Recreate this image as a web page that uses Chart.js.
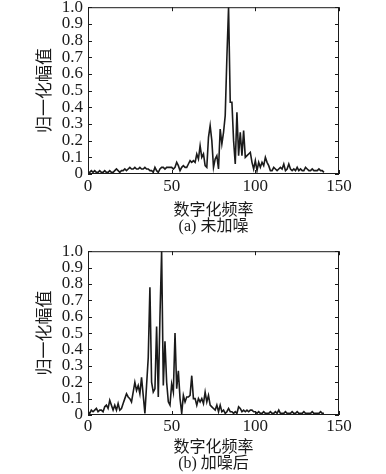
<!DOCTYPE html>
<html>
<head>
<meta charset="utf-8">
<script src="https://cdn.jsdelivr.net/npm/chart.js@4.4.1/dist/chart.umd.min.js"></script>
<style>
  html, body { margin: 0; padding: 0; background: #fff; }
  #wrap { position: relative; width: 386px; height: 474px; overflow: hidden; }
  .box { position: absolute; left: 0; width: 386px; }
</style>
</head>
<body>
<div id="wrap">
  <div class="box" style="top:-8px;height:244px;"><canvas id="chartA"></canvas></div>
  <div class="box" style="top:236px;height:238px;"><canvas id="chartB"></canvas></div>
</div>
<script>
// tick labels
const xTicks = [0, 50, 100, 150];
const yTicks = [0, 0.1, 0.2, 0.3, 0.4, 0.5, 0.6, 0.7, 0.8, 0.9, 1.0];

// (a) 未加噪 - normalized amplitude per digital frequency bin (0..141)
const seriesA = [
  0.01, 0.01, 0.02, 0.01, 0.02, 0.01, 0.01, 0.02, 0.01, 0.01,
  0.02, 0.01, 0.01, 0.02, 0.01, 0.01, 0.02, 0.03, 0.02, 0.01,
  0.02, 0.02, 0.03, 0.02, 0.03, 0.04, 0.03, 0.03, 0.04, 0.03,
  0.03, 0.04, 0.03, 0.03, 0.04, 0.03, 0.03, 0.02, 0.02, 0.01,
  0.04, 0.02, 0.01, 0.03, 0.04, 0.04, 0.03, 0.04, 0.04, 0.04,
  0.04, 0.03, 0.04, 0.07, 0.05, 0.02, 0.04, 0.05, 0.04, 0.04,
  0.06, 0.08, 0.07, 0.08, 0.07, 0.12, 0.09, 0.17, 0.10, 0.12,
  0.05, 0.04, 0.22, 0.29, 0.20, 0.04, 0.09, 0.11, 0.03, 0.27,
  0.18, 0.25, 0.35, 0.70, 1.00, 0.43, 0.43, 0.20, 0.06, 0.37,
  0.11, 0.25, 0.11, 0.26, 0.10, 0.11, 0.12, 0.13, 0.07, 0.03,
  0.08, 0.02, 0.07, 0.04, 0.07, 0.05, 0.10, 0.07, 0.05, 0.02,
  0.02, 0.04, 0.03, 0.02, 0.03, 0.04, 0.03, 0.06, 0.02, 0.03,
  0.06, 0.03, 0.02, 0.03, 0.02, 0.04, 0.02, 0.03, 0.02, 0.02,
  0.04, 0.03, 0.02, 0.02, 0.03, 0.02, 0.02, 0.02, 0.03, 0.02,
  0.02, 0.01
];

// (b) 加噪后
const seriesB = [
  0.02, 0.01, 0.03, 0.02, 0.03, 0.04, 0.02, 0.03, 0.03, 0.02,
  0.05, 0.06, 0.04, 0.09, 0.06, 0.03, 0.06, 0.03, 0.07, 0.03,
  0.04, 0.07, 0.10, 0.13, 0.11, 0.10, 0.08, 0.14, 0.20, 0.15,
  0.18, 0.13, 0.23, 0.12, 0.01, 0.18, 0.35, 0.78, 0.20, 0.14,
  0.16, 0.54, 0.11, 0.60, 1.00, 0.18, 0.45, 0.20, 0.08, 0.06,
  0.19, 0.14, 0.50, 0.16, 0.27, 0.10, 0.01, 0.12, 0.08, 0.11,
  0.11, 0.12, 0.24, 0.10, 0.10, 0.06, 0.10, 0.08, 0.10, 0.07,
  0.14, 0.08, 0.12, 0.06, 0.05, 0.04, 0.03, 0.06, 0.02, 0.06,
  0.02, 0.03, 0.01, 0.02, 0.04, 0.02, 0.02, 0.01, 0.02, 0.01,
  0.05, 0.04, 0.02, 0.03, 0.02, 0.03, 0.02, 0.03, 0.03, 0.02,
  0.02, 0.01, 0.02, 0.01, 0.01, 0.02, 0.01, 0.01, 0.01, 0.02,
  0.01, 0.01, 0.02, 0.01, 0.03, 0.01, 0.01, 0.01, 0.02, 0.01,
  0.01, 0.01, 0.02, 0.01, 0.01, 0.02, 0.01, 0.01, 0.01, 0.02,
  0.01, 0.01, 0.01, 0.01, 0.02, 0.01, 0.01, 0.01, 0.01, 0.02,
  0.01, 0.01
];

const xTitle = '数字化频率';
const yTitle = '归一化幅值';

const fontFamily = '"Liberation Serif", "Noto Sans CJK SC", serif';
const ink = '#1a1a1a';

// frame box + inward tick marks on all four sides
const frameTicks = {
  id: 'frameTicks',
  afterDraw(chart) {
    const ctx = chart.ctx;
    const a = chart.chartArea;
    const xs = chart.scales.x;
    const ys = chart.scales.y;
    const len = 4;
    ctx.save();
    ctx.strokeStyle = ink;
    ctx.lineWidth = 1;
    ctx.strokeRect(a.left + 0.5, a.top + 0.5, a.right - a.left - 1, a.bottom - a.top - 1);
    ctx.beginPath();
    xTicks.forEach(v => {
      const px = Math.round(xs.getPixelForValue(v)) + 0.5;
      ctx.moveTo(px, a.bottom); ctx.lineTo(px, a.bottom - len);
      ctx.moveTo(px, a.top); ctx.lineTo(px, a.top + len);
    });
    yTicks.forEach(v => {
      const py = Math.round(ys.getPixelForValue(v)) + 0.5;
      ctx.moveTo(a.left, py); ctx.lineTo(a.left + len, py);
      ctx.moveTo(a.right, py); ctx.lineTo(a.right - len, py);
    });
    ctx.stroke();
    ctx.restore();
  }
};

// x title + caption as a two-line axis title; x axis height fixed per panel
function makeChart(id, values, caption, tickPad, xHeight, bottomPad) {
  const points = values.map((v, i) => ({ x: i, y: v }));
  return new Chart(document.getElementById(id), {
    type: 'line',
    data: {
      datasets: [{
        data: points,
        borderColor: ink,
        borderWidth: 1.6,
        pointRadius: 0,
        tension: 0,
        fill: false
      }]
    },
    options: {
      responsive: true,
      maintainAspectRatio: false,
      animation: false,
      layout: { padding: { top: 0, right: 47, left: 0, bottom: bottomPad } },
      plugins: {
        legend: { display: false },
        tooltip: { enabled: false }
      },
      scales: {
        x: {
          type: 'linear',
          min: 0,
          max: 150,
          afterBuildTicks: s => { s.ticks = xTicks.map(v => ({ value: v })); },
          afterFit: s => { s.height = xHeight; },
          grid: { display: false, drawTicks: false },
          border: { display: false },
          ticks: {
            color: ink,
            padding: tickPad,
            maxRotation: 0,
            autoSkip: false,
            font: { family: fontFamily, size: 17, lineHeight: 1 }
          },
          title: {
            display: true,
            text: [xTitle, caption],
            color: ink,
            font: { family: fontFamily, size: 16, lineHeight: 1 },
            padding: { top: 0, bottom: 0 }
          }
        },
        y: {
          min: 0,
          max: 1,
          afterBuildTicks: s => { s.ticks = yTicks.map(v => ({ value: v })); },
          afterFit: s => { s.width = 88; },
          grid: { display: false, drawTicks: false },
          border: { display: false },
          ticks: {
            color: ink,
            padding: 5,
            autoSkip: false,
            font: { family: fontFamily, size: 17 },
            callback: v => (v === 0 ? '0' : v.toFixed(1))
          },
          title: {
            display: true,
            text: yTitle,
            color: ink,
            font: { family: fontFamily, size: 17 },
            padding: { top: 35, bottom: 0 }
          }
        }
      }
    },
    plugins: [frameTicks]
  });
}

makeChart('chartA', seriesA, '(a) 未加噪', 4, 61, 1);
makeChart('chartB', seriesB, '(b) 加噪后', 3, 57, 2);
</script>
</body>
</html>
